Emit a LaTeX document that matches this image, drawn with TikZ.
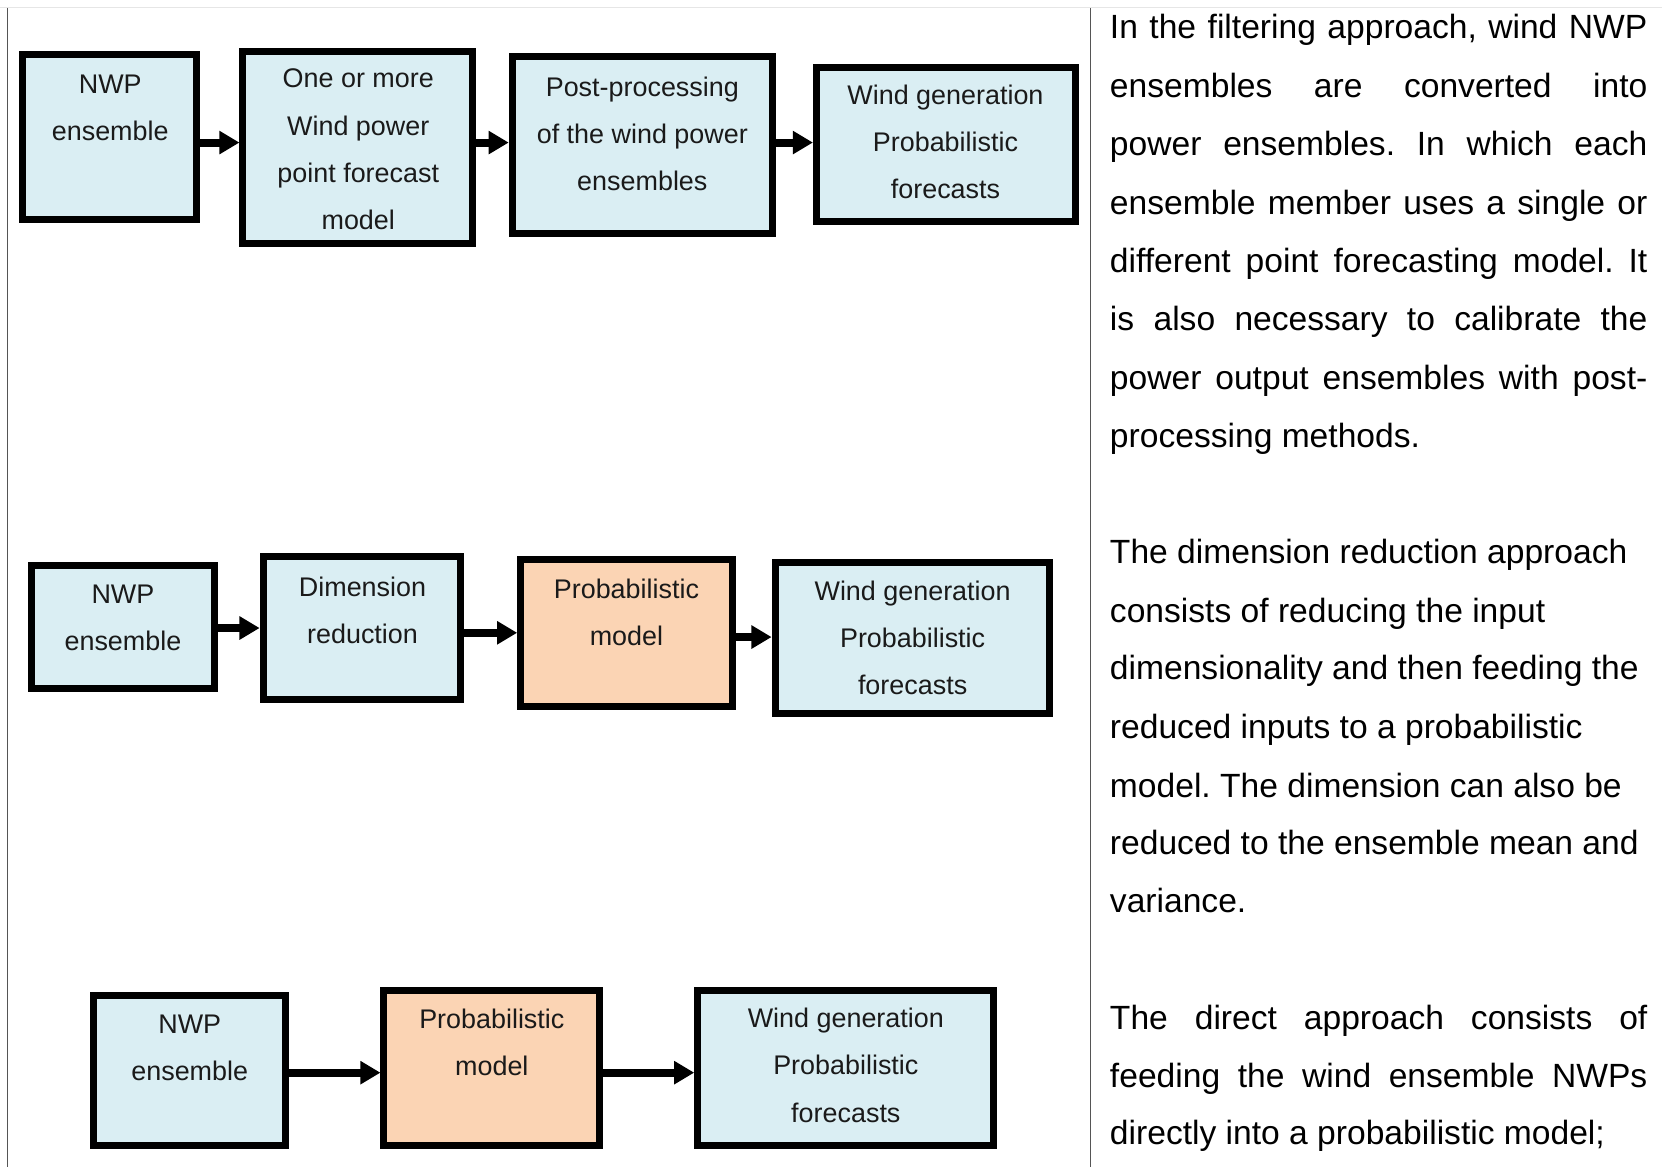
\documentclass[tikz,border=0pt]{standalone}
\usepackage{fontspec}
\setmainfont{Liberation Sans}
\usetikzlibrary{arrows.meta}
\definecolor{boxblue}{HTML}{DAEEF3}
\definecolor{boxorange}{HTML}{FBD4B4}
\definecolor{txt}{HTML}{1A1A1A}
\definecolor{rule}{HTML}{555555}
\definecolor{faint}{HTML}{E6E6E6}
\frenchspacing
\begin{document}
\begin{tikzpicture}[x=1pt,y=-1pt,
  bx/.style={draw=black, line width=6.6pt, outer sep=3.3pt, inner sep=0pt},
  bluebox/.style={bx, fill=boxblue},
  orangebox/.style={bx, fill=boxorange},
  lbl/.style={align=center, font=\fontsize{25.4}{44.5}\selectfont, text=txt, inner sep=0pt},
  para/.style={anchor=base west, inner sep=0pt, font=\fontsize{31.7}{55}\selectfont, text=black},
  arr/.style={line width=7.5pt, -{Triangle[length=19pt,width=21pt]}},
  sep/.style={draw=rule, line width=1.5pt}
]
\useasboundingbox (0,0) rectangle (1568,1101);
\fill[white] (0,0) rectangle (1568,1101);
\draw[faint, line width=1pt] (0,7) -- (1568,7);
\draw[sep] (7,8) -- (7,1101);
\draw[sep] (1029,8) -- (1029,1101);

% top row
\node[bluebox, minimum width=164pt, minimum height=156pt] (b1) at (103.5,129.5) {};
\node[bluebox, minimum width=216.5pt, minimum height=181.5pt] (b2) at (337.5,139) {};
\node[bluebox, minimum width=245.5pt, minimum height=167.5pt] (b3) at (606,137) {};
\node[bluebox, minimum width=244.5pt, minimum height=145.5pt] (b4) at (892.5,136) {};
\node[lbl] (t1) at (104,102) {NWP\\ensemble};
\node[lbl] (t2) at (338,141) {One or more\\Wind power\\point forecast\\model};
\node[lbl] (t3) at (606,126) {Post-processing\\of the wind power\\ensembles};
\node[lbl] (t4) at (892,134) {Wind generation\\Probabilistic\\forecasts};
\draw[arr] (b1.east |- 0,134.5) -- (b2.west |- 0,134.5);
\draw[arr] (b2.east |- 0,134.5) -- (b3.west |- 0,134.5);
\draw[arr] (b3.east |- 0,134.5) -- (b4.west |- 0,134.5);

% middle row
\node[bluebox, minimum width=173.5pt, minimum height=116.5pt] (b5) at (116,591.5) {};
\node[bluebox, minimum width=186.5pt, minimum height=134.5pt] (b6) at (341.5,592.5) {};
\node[orangebox, minimum width=199.5pt, minimum height=138.5pt] (b7) at (591,597.5) {};
\node[bluebox, minimum width=258.5pt, minimum height=142.5pt] (b8) at (860.5,601.5) {};
\node[lbl] (t5) at (116,583) {NWP\\ensemble};
\node[lbl] (t6) at (342,576) {Dimension\\reduction};
\node[lbl] (t7) at (591,578) {Probabilistic\\model};
\node[lbl] (t8) at (861,602) {Wind generation\\Probabilistic\\forecasts};
\draw[arr] (b5.east |- 0,592.5) -- (b6.west |- 0,592.5);
\draw[arr] (b6.east |- 0,597) -- (b7.west |- 0,597);
\draw[arr] (b7.east |- 0,601) -- (b8.west |- 0,601);

% bottom row
\node[bluebox, minimum width=181.5pt, minimum height=141.5pt] (b9) at (179,1010) {};
\node[orangebox, minimum width=203.5pt, minimum height=146.5pt] (b10) at (464,1007.5) {};
\node[bluebox, minimum width=279.5pt, minimum height=146.5pt] (b11) at (798,1007.5) {};
\node[lbl] (t9) at (179,988.5) {NWP\\ensemble};
\node[lbl] (t10) at (464,983.5) {Probabilistic\\model};
\node[lbl] (t11) at (798,1005) {Wind generation\\Probabilistic\\forecasts};
\draw[arr] (b9.east |- 0,1012) -- (b10.west |- 0,1012);
\draw[arr] (b10.east |- 0,1012) -- (b11.west |- 0,1012);

% right text
\node[para] (p1) at (1047,36) {\makebox[507pt][s]{In the filtering approach, wind NWP}};
\node[para] (p2) at (1047,92) {\makebox[507pt][s]{ensembles are converted into}};
\node[para] (p3) at (1047,147) {\makebox[507pt][s]{power ensembles. In which each}};
\node[para] (p4) at (1047,202) {\makebox[507pt][s]{ensemble member uses a single or}};
\node[para] (p5) at (1047,257) {\makebox[507pt][s]{different point forecasting model. It}};
\node[para] (p6) at (1047,312) {\makebox[507pt][s]{is also necessary to calibrate the}};
\node[para] (p7) at (1047,367) {\makebox[507pt][s]{power output ensembles with post-}};
\node[para] (p8) at (1047,422) {processing methods.};

\node[para] (q1) at (1047,532) {The dimension reduction approach};
\node[para] (q2) at (1047,587) {consists of reducing the input};
\node[para] (q3) at (1047,641) {dimensionality and then feeding the};
\node[para] (q4) at (1047,697) {reduced inputs to a probabilistic};
\node[para] (q5) at (1047,752) {model. The dimension can also be};
\node[para] (q6) at (1047,806) {reduced to the ensemble mean and};
\node[para] (q7) at (1047,861) {variance.};

\node[para] (r1) at (1047,971) {\makebox[507pt][s]{The direct approach consists of}};
\node[para] (r2) at (1047,1026) {\makebox[507pt][s]{feeding the wind ensemble NWPs}};
\node[para] (r3) at (1047,1080) {directly into a probabilistic model;};
\end{tikzpicture}
\end{document}
